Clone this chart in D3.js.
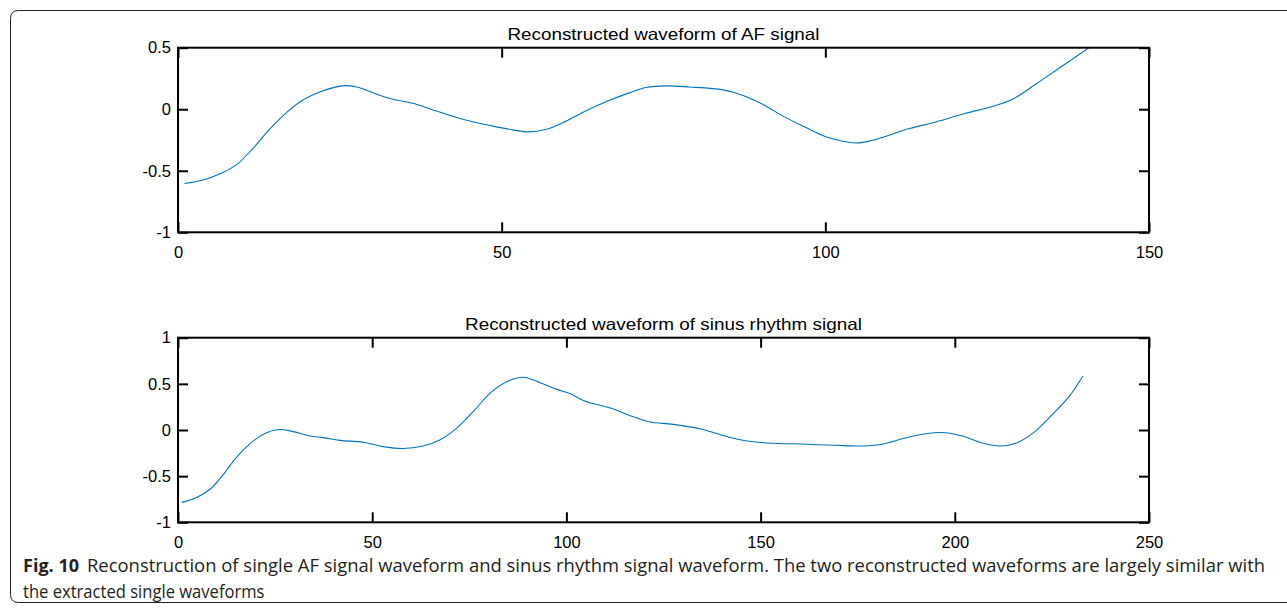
<!DOCTYPE html>
<html>
<head>
<meta charset="utf-8">
<script src="https://cdn.jsdelivr.net/npm/d3@7"></script>
<style>
  html, body { margin: 0; padding: 0; background: #fff; }
  svg { display: block; }
</style>
</head>
<body>
<svg id="fig" width="1287" height="613"></svg>
<script>
// Reconstructed AF waveform (sample index, amplitude)
const afSamples = [1, 3.9, 6.5, 9.1, 11.6, 14.2, 16.8, 19.3, 21.9, 25.3, 27.6, 30.7, 33.2, 36.8, 39.9, 44.0, 48.5,
  51.2, 54.1, 56.9, 59.5, 62.5, 66.2, 69.8, 72.3, 75.4, 79.0, 84.2, 87.2, 90.3, 93.4, 97.0, 100.6,
  104.7, 107.3, 113.0, 117.1, 121.7, 125.8, 128.9, 132.5, 136.1, 141];
const afValues = [-0.604, -0.575, -0.525, -0.448, -0.318, -0.160, -0.025, 0.075, 0.140, 0.190, 0.181, 0.122, 0.081, 0.041, -0.014, -0.081, -0.135,
  -0.163, -0.184, -0.163, -0.108, -0.027, 0.062, 0.135, 0.176, 0.190, 0.181, 0.157, 0.114, 0.041, -0.054, -0.149, -0.232,
  -0.274, -0.252, -0.157, -0.103, -0.033, 0.022, 0.081, 0.203, 0.333, 0.51];

// Reconstructed sinus rhythm waveform (sample index, amplitude)
const srSamples = [1, 4.8, 8.2, 11.7, 15.1, 18.5, 22.0, 26.2, 29.7, 34.0, 37.4, 41.7, 47.7, 52.8, 58.0, 63.1, 67.4, 71.7,
  76.0, 80.3, 84.6, 88.9, 93.2, 97.5, 100.9, 104.5, 111.6, 116.0, 121.3, 127.5, 134.6, 139.9, 146.1, 153.2,
  160.3, 169.2, 176.3, 181.6, 186.9, 192.2, 197.5, 201.9, 207.3, 211.7, 216.1, 220.6, 225.0, 229.4, 233.0];
const srValues = [-0.784, -0.730, -0.645, -0.480, -0.295, -0.150, -0.045, 0.005, -0.018, -0.065, -0.083, -0.112, -0.133, -0.180, -0.200, -0.173, -0.108, 0.018,
  0.198, 0.397, 0.523, 0.571, 0.513, 0.440, 0.395, 0.318, 0.235, 0.163, 0.090, 0.061, 0.011, -0.054, -0.116, -0.144,
  -0.152, -0.166, -0.173, -0.152, -0.090, -0.043, -0.029, -0.065, -0.144, -0.173, -0.137, -0.018, 0.163, 0.361, 0.585];

// Axis ticks
const afXTicks = [0, 50, 100, 150];
const afYTicks = [-1, -0.5, 0, 0.5];
const srXTicks = [0, 50, 100, 150, 200, 250];
const srYTicks = [-1, -0.5, 0, 0.5, 1];

const panels = [
  { title: "Reconstructed waveform of AF signal", titleWidth: 312, xs: afSamples, ys: afValues,
    xDomain: [0, 150], yDomain: [-1, 0.5], xTicks: afXTicks, yTicks: afYTicks,
    top: 47.7, bottom: 232.3 },
  { title: "Reconstructed waveform of sinus rhythm signal", titleWidth: 397, xs: srSamples, ys: srValues,
    xDomain: [0, 250], yDomain: [-1, 1], xTicks: srXTicks, yTicks: srYTicks,
    top: 337.7, bottom: 522.3 }
];

const svg = d3.select("#fig");
const left = 178, right = 1149, tickLen = 10;
const fontChart = "'Liberation Sans', Arial, sans-serif";
const plainNumber = d => String(d);   // ASCII hyphen for negatives

// Figure frame with rounded corners
svg.append("path")
  .attr("d", "M1300,10.5 L18.5,10.5 Q10.5,10.5 10.5,18.5 L10.5,594.5 Q10.5,602.5 18.5,602.5 L1300,602.5")
  .attr("fill", "none").attr("stroke", "#231f20").attr("stroke-width", 1);

panels.forEach((p, i) => {
  const x = d3.scaleLinear().domain(p.xDomain).range([left, right]);
  const y = d3.scaleLinear().domain(p.yDomain).range([p.bottom, p.top]);
  const g = svg.append("g");

  const clipId = "clip" + i;
  svg.append("clipPath").attr("id", clipId)
    .append("rect").attr("x", left).attr("y", p.top)
    .attr("width", right - left).attr("height", p.bottom - p.top);

  const pts = p.xs.map((v, k) => [v, p.ys[k]]);
  g.append("path")
    .datum(pts)
    .attr("clip-path", `url(#${clipId})`)
    .attr("fill", "none")
    .attr("stroke", "#0072BD")
    .attr("stroke-width", 1.1)
    .attr("d", d3.line().x(d => x(d[0])).y(d => y(d[1])).curve(d3.curveCatmullRom.alpha(0.5)));

  // Axes: bottom and left carry labels, top and right mirror the ticks
  const styleAxis = sel => {
    sel.select(".domain").remove();
    sel.selectAll(".tick line").attr("stroke", "#000").attr("stroke-width", 2);
    sel.selectAll(".tick text").attr("fill", "#000").attr("font-size", 16.5).attr("font-family", fontChart);
  };
  g.append("g").attr("transform", `translate(0,${p.bottom})`)
    .call(d3.axisBottom(x).tickValues(p.xTicks).tickSize(-tickLen).tickPadding(14).tickFormat(plainNumber))
    .call(styleAxis);
  g.append("g").attr("transform", `translate(0,${p.top})`)
    .call(d3.axisTop(x).tickValues(p.xTicks).tickSize(-tickLen).tickFormat(""))
    .call(styleAxis);
  g.append("g").attr("transform", `translate(${left},0)`)
    .call(d3.axisLeft(y).tickValues(p.yTicks).tickSize(-tickLen).tickPadding(7).tickFormat(plainNumber))
    .call(styleAxis);
  g.append("g").attr("transform", `translate(${right},0)`)
    .call(d3.axisRight(y).tickValues(p.yTicks).tickSize(-tickLen).tickFormat(""))
    .call(styleAxis);

  g.append("rect")
    .attr("x", left).attr("y", p.top)
    .attr("width", right - left).attr("height", p.bottom - p.top)
    .attr("fill", "none").attr("stroke", "#000").attr("stroke-width", 2);

  g.append("text")
    .attr("x", (left + right) / 2).attr("y", p.top - 8)
    .attr("text-anchor", "middle")
    .attr("font-family", fontChart).attr("font-size", 16.5).attr("fill", "#000")
    .attr("textLength", p.titleWidth).attr("lengthAdjust", "spacingAndGlyphs")
    .text(p.title);
});

// Caption: condensed text, both lines squeezed by the same factor
const fontCap = "'Open Sans', 'Noto Sans', sans-serif";
const cap = svg.append("g").attr("fill", "#231f20").attr("font-family", fontCap).attr("font-size", 18);
cap.append("text").attr("x", 23).attr("y", 572).attr("font-weight", "bold")
  .attr("textLength", 56).attr("lengthAdjust", "spacingAndGlyphs").text("Fig. 10");
const line1 = cap.append("text").attr("x", 87).attr("y", 572)
  .text("Reconstruction of single AF signal waveform and sinus rhythm signal waveform. The two reconstructed waveforms are largely similar with");
const squeeze = 1178 / line1.node().getComputedTextLength();
line1.attr("textLength", 1178).attr("lengthAdjust", "spacingAndGlyphs");
const line2 = cap.append("text").attr("x", 23).attr("y", 598)
  .text("the extracted single waveforms");
line2.attr("textLength", line2.node().getComputedTextLength() * squeeze * 0.9).attr("lengthAdjust", "spacingAndGlyphs");
</script>
</body>
</html>
